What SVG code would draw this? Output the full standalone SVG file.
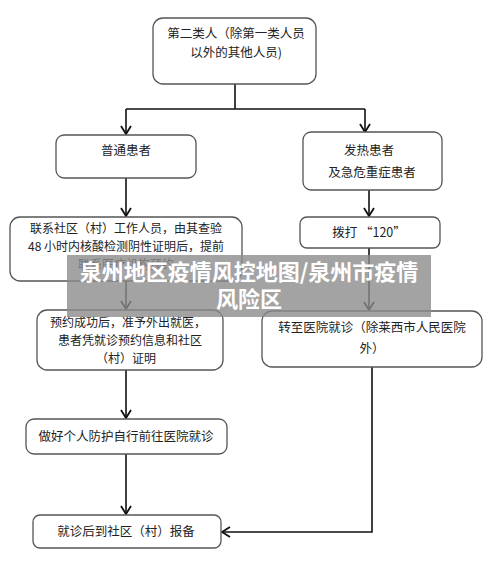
<svg xmlns="http://www.w3.org/2000/svg" width="500" height="573" viewBox="0 0 500 573">
<style>
.box{fill:#fff;stroke:#555;stroke-width:1.3}
.t{font-family:"Noto Sans CJK SC","Liberation Sans",sans-serif;font-size:12.5px;fill:#222;text-anchor:middle}
.s{font-size:12px}
.c{fill:none;stroke:#111;stroke-width:1.6}
.ov{font-family:"Noto Sans CJK SC","Liberation Sans",sans-serif;font-size:22px;font-weight:bold;fill:#fff;text-anchor:middle}
</style>
<defs>
<marker id="a" markerWidth="12" markerHeight="12" refX="10" refY="6" orient="auto" markerUnits="userSpaceOnUse">
<path d="M2,1 L10,6 L2,11" fill="none" stroke="#111" stroke-width="1.8"/>
</marker>
</defs>
<rect width="500" height="573" fill="#fff"/>
<g id="connectors">
<path class="c" d="M235,84 V109"/>
<path class="c" d="M126,109 H365"/>
<path class="c" d="M126,109 V134" marker-end="url(#a)"/>
<path class="c" d="M365,109 V132" marker-end="url(#a)"/>
<path class="c" d="M126,178 V216" marker-end="url(#a)"/>
<path class="c" d="M369,190 V216" marker-end="url(#a)"/>
<path class="c" d="M126,281 V309" marker-end="url(#a)"/>
<path class="c" d="M369,248 V310" marker-end="url(#a)"/>
<path class="c" d="M126,370 V418" marker-end="url(#a)"/>
<path class="c" d="M126,454 V514" marker-end="url(#a)"/>
<path class="c" d="M372,367 V532 H222" marker-end="url(#a)"/>
</g>
<g id="n1"><rect class="box" x="153" y="18" width="163" height="66" rx="10"/>
<text class="t" x="236" y="38">第二类人（除第一类人员</text>
<text class="t" x="236" y="57">以外的其他人员)</text></g>
<g id="n2"><rect class="box" x="56" y="135" width="140" height="43" rx="8"/>
<text class="t" x="126" y="155">普通患者</text></g>
<g id="n3"><rect class="box" x="303" y="132" width="139" height="58" rx="8"/>
<text class="t" x="369" y="155">发热患者</text>
<text class="t" x="372" y="177">及急危重症患者</text></g>
<g id="n4"><rect class="box" x="10" y="217" width="232" height="64" rx="10"/>
<text class="t s" x="126" y="233">联系社区（村）工作人员，由其查验</text>
<text class="t s" x="126" y="251">48 小时内核酸检测阴性证明后，提前</text>
<text class="t s" x="126" y="269">联系医疗机构预约</text></g>
<g id="n5"><rect class="box" x="300" y="217" width="140" height="31" rx="7"/>
<text class="t" x="369" y="237">拨打 “120”</text></g>
<g id="n6"><rect class="box" x="37" y="310" width="186" height="60" rx="10"/>
<text class="t s" x="128" y="327">预约成功后，准予外出就医，</text>
<text class="t s" x="130" y="345">患者凭就诊预约信息和社区</text>
<text class="t s" x="126" y="363">（村）证明</text></g>
<g id="n7"><rect class="box" x="262" y="311" width="220" height="56" rx="10"/>
<text class="t" x="372" y="332">转至医院就诊（除莱西市人民医院</text>
<text class="t" x="372" y="353">外）</text></g>
<g id="n8"><rect class="box" x="26" y="419" width="201" height="35" rx="8"/>
<text class="t" x="126" y="441">做好个人防护自行前往医院就诊</text></g>
<g id="n9"><rect class="box" x="33" y="515" width="188" height="33" rx="7"/>
<text class="t" x="126" y="536">就诊后到社区（村）报备</text></g>
<g id="overlay">
<rect x="67" y="255" width="364" height="62" fill="#8c8c8c" fill-opacity="0.8"/>
<text class="ov" x="249" y="280">泉州地区疫情风控地图/泉州市疫情</text>
<text class="ov" x="249" y="307">风险区</text>
</g>
</svg>
